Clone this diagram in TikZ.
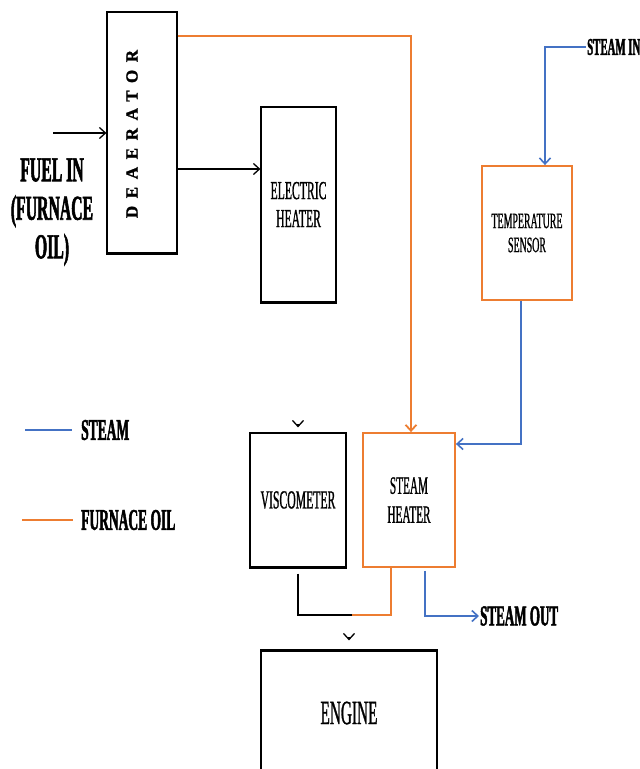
\documentclass[tikz,border=0pt]{standalone}
\usepackage{fontspec}
\setmainfont{Liberation Serif}[FakeStretch=0.45,FakeBold=0.8]
\newfontfamily\lblfont{Liberation Serif Bold}[FakeStretch=0.45,FakeBold=1.5]
\newfontfamily\deafont{Liberation Serif Bold}[LetterSpace=45,FakeBold=1.5]
\usepackage{tikz}
\usetikzlibrary{arrows.meta}
\definecolor{oilc}{HTML}{ED7D31}
\definecolor{steamc}{HTML}{4472C4}

\begin{document}
\begin{tikzpicture}[x=1pt,y=-1pt,>={Straight Barb[length=6pt,width=11pt]},
  box/.style={draw,line width=1.2pt,inner sep=0pt,align=center,font=\fontsize{26}{28}\selectfont},
  obox/.style={box,draw=oilc,line width=1.8pt},
  lbl/.style={font=\lblfont\fontsize{30}{38}\selectfont,inner sep=1pt},
  oil/.style={draw=oilc,line width=1.8pt},
  steam/.style={draw=steamc,line width=1.6pt},
  flow/.style={draw,line width=1.3pt}]
\useasboundingbox (0,0) rectangle (640,769);

% boxes
\node[box,minimum width=70pt,minimum height=241pt] (dea) at (142,132.5) {};
\node[rotate=90,inner sep=0pt,font=\deafont\fontsize{17}{17}\selectfont] (dea_d) at (132,134) {DEAERATOR};
\node[box,minimum width=75pt,minimum height=195pt] (eh) at (298.5,204.5) {ELECTRIC\\HEATER};
\node[obox,minimum width=90pt,minimum height=134pt,font=\fontsize{22}{24}\selectfont] (ts) at (527,233) {TEMPERATURE\\SENSOR};
\node[box,minimum width=96pt,minimum height=134pt] (visc) at (298,500) {VISCOMETER};
\node[obox,minimum width=92pt,minimum height=134pt,font=\fontsize{25}{29}\selectfont] (sh) at (409,500) {STEAM\\HEATER};
\node[box,minimum width=176pt,minimum height=124pt,font=\fontsize{34}{34}\selectfont] (eng) at (349,713) {ENGINE};

% heavy edges
\draw[line width=3pt] (dea.south west) -- (dea.south east);
\draw[line width=3pt] (eh.south west) -- (eh.south east);
\draw[line width=3pt] (visc.south west) -- (visc.south east);
\draw[line width=3pt] (eng.north west) -- (eng.north east);

% labels
\node[lbl,align=center,font=\lblfont\fontsize{35}{38.5}\selectfont] (fuel_d) at (52,212) {FUEL IN\\(FURNACE\\OIL)};
\node[lbl,anchor=west,font=\lblfont\fontsize{24}{24}\selectfont] (steamin_d) at (586,47) {STEAM IN};
\node[lbl,anchor=west,font=\lblfont\fontsize{29}{29}\selectfont] (steamout_d) at (479,616) {STEAM OUT};
\node[lbl,anchor=west] (legsteam_d) at (80,430) {STEAM};
\node[lbl,anchor=west] (legoil_d) at (80,520) {FURNACE OIL};

% legend
\draw[steam] ([xshift=-55pt]legsteam_d.west) -- ([xshift=-8pt]legsteam_d.west);
\draw[oil] ([xshift=-58pt]legoil_d.west) -- ([xshift=-7pt]legoil_d.west);

% fuel path
\coordinate (fuelin) at (53,133);
\coordinate (deaout) at (177,169);
\coordinate (mrg) at (352,615);
\draw[flow,->] (fuelin) -- (fuelin -| dea.west);
\draw[flow,->] (deaout) -- (deaout -| eh.west);
\draw[oil,->] ([yshift=96.5pt]dea.east) -| ([xshift=2pt]sh.north);
\draw[flow] ([yshift=-6pt]visc.south) |- (mrg);
\draw[oil] ([xshift=-18pt]sh.south) |- (mrg);
\draw[flow,->] ([yshift=8pt]visc.north) -- ([yshift=5pt]visc.north);
\draw[flow,->] ([yshift=13pt]eng.north) -- ([yshift=10pt]eng.north);

% steam path
\draw[steam,->] (steamin_d.west) -| ([xshift=18pt]ts.north);
\draw[steam,->] ([xshift=-6pt]ts.south) |- ([yshift=56pt]sh.east);
\draw[steam,->] ([xshift=16pt,yshift=-3pt]sh.south) |- (steamout_d.west);
\end{tikzpicture}
\end{document}
